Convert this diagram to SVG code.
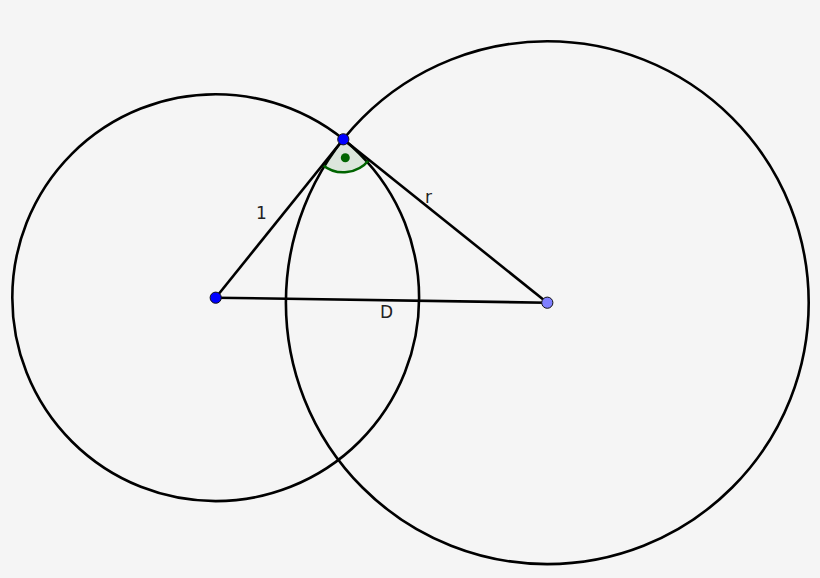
<svg xmlns="http://www.w3.org/2000/svg" width="820" height="578" viewBox="0 0 820 578">
<style>
.c{fill:none;stroke:#000;stroke-width:2.6}
.s{stroke:#000;stroke-width:2.6}
.t{font-family:"DejaVu Sans",sans-serif;font-size:17px;fill:#222}
.pt{stroke:#111;stroke-width:1}
</style>
<rect width="820" height="578" fill="#f5f5f5"/>
<g id="circle-left"><circle class="c" cx="215.7" cy="297.7" r="203.4"/></g>
<g id="circle-right"><circle class="c" cx="547.3" cy="302.7" r="261.4"/></g>
<g id="angle">
<path d="M343.3,139.3 L322.6,164.9 A33,33 0 0 0 369,160 Z" fill="#006400" fill-opacity="0.1" stroke="none"/>
<path d="M322.6,164.9 A33,33 0 0 0 369,160" fill="none" stroke="#006400" stroke-width="2.6"/>
<circle cx="345.3" cy="157.7" r="4.5" fill="#006400"/>
</g>
<g id="connectors">
<line class="s" x1="215.7" y1="297.7" x2="343.3" y2="139.3"/>
<line class="s" x1="343.3" y1="139.3" x2="547.3" y2="302.7"/>
<line class="s" x1="215.7" y1="297.7" x2="547.3" y2="302.7"/>
</g>
<g id="labels">
<text class="t" x="256" y="219">1</text>
<text class="t" x="425" y="203">r</text>
<text class="t" x="380" y="318">D</text>
</g>
<g id="point-A"><circle class="pt" cx="215.7" cy="297.7" r="5.6" fill="#0000ff"/></g>
<g id="point-P"><circle class="pt" cx="343.3" cy="139.3" r="5.6" fill="#0000ff"/></g>
<g id="point-B"><circle class="pt" cx="547.3" cy="302.7" r="5.6" fill="#7f7fff"/></g>
</svg>
